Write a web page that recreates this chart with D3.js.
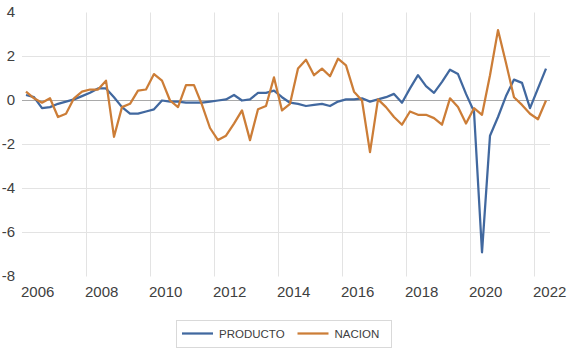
<!DOCTYPE html>
<html lang="es">
<head>
<meta charset="UTF-8">
<title>PRODUCTO vs NACION</title>
<script src="https://d3js.org/d3.v7.min.js"></script>
<style>
  html, body { margin: 0; padding: 0; background: #ffffff; }
  svg { display: block; font-family: "Liberation Sans", Arial, sans-serif; }
</style>
</head>
<body>
<svg id="chart" width="568" height="349"></svg>
<script>
// quarterly series, 2006Q1 .. 2022Q2
const startYear = 2006;
const producto = [
  0.25, 0.15, -0.35, -0.3, -0.15, -0.05, 0.05, 0.2, 0.35, 0.55,
  0.55, 0.15, -0.3, -0.6, -0.6, -0.5, -0.4, 0.0, -0.05, -0.05,
  -0.1, -0.1, -0.1, -0.05, 0.0, 0.05, 0.25, 0.0, 0.05, 0.35,
  0.35, 0.45, 0.15, -0.1, -0.15, -0.25, -0.2, -0.15, -0.25, -0.05,
  0.05, 0.05, 0.1, -0.05, 0.05, 0.15, 0.3, -0.1, 0.55, 1.15,
  0.65, 0.35, 0.85, 1.4, 1.2, 0.3, -0.5, -6.9, -1.6, -0.75,
  0.2, 0.95, 0.8, -0.35, 0.55, 1.45
];
const nacion = [
  0.4, 0.1, -0.1, 0.1, -0.75, -0.6, 0.1, 0.4, 0.5, 0.5,
  0.9, -1.65, -0.3, -0.15, 0.45, 0.5, 1.2, 0.9, 0.0, -0.3,
  0.7, 0.7, -0.2, -1.25, -1.8, -1.6, -1.05, -0.45, -1.8, -0.4,
  -0.25, 1.05, -0.45, -0.15, 1.45, 1.85, 1.15, 1.45, 1.1, 1.9,
  1.6, 0.4, 0.0, -2.35, 0.05, -0.3, -0.75, -1.1, -0.5, -0.65,
  -0.65, -0.8, -1.1, 0.1, -0.3, -1.05, -0.35, -0.65, 1.15, 3.2,
  1.7, 0.15, -0.2, -0.6, -0.85, 0.0
];
const yTicks = [4, 2, 0, -2, -4, -6, -8];
const xTickYears = [2006, 2008, 2010, 2012, 2014, 2016, 2018, 2020, 2022];
const seriesNames = ["PRODUCTO", "NACION"];
const seriesColors = ["#41689f", "#cc7d37"];

const svg = d3.select("#chart");

const x = d3.scaleLinear().domain([2006, 2022.5]).range([22, 550]);
const y = d3.scaleLinear().domain([-8, 4]).range([276.5, 12.5]);

// quarter i sits at mid-quarter
const t = i => startYear + i * 0.25 + 0.125;

// gridlines
const grid = svg.append("g");
grid.selectAll("line.v")
  .data(xTickYears.filter(d => d > 2006))
  .join("line")
  .attr("x1", d => Math.round(x(d)) + 0.5).attr("x2", d => Math.round(x(d)) + 0.5)
  .attr("y1", y(4)).attr("y2", y(-8))
  .attr("stroke", "#e3e3e3").attr("stroke-width", 1);
grid.selectAll("line.h")
  .data(yTicks.filter(d => d !== 0 && d !== 4 && d !== -8))
  .join("line")
  .attr("x1", x.range()[0]).attr("x2", x.range()[1])
  .attr("y1", d => y(d)).attr("y2", d => y(d))
  .attr("stroke", "#e3e3e3").attr("stroke-width", 1);
grid.append("line")
  .attr("x1", x.range()[0]).attr("x2", x.range()[1])
  .attr("y1", y(0)).attr("y2", y(0))
  .attr("stroke", "#a9a9a9").attr("stroke-width", 1);

// axis labels
svg.append("g").selectAll("text")
  .data(yTicks)
  .join("text")
  .attr("x", 15).attr("y", d => y(d) + 1)
  .attr("text-anchor", "end").attr("dominant-baseline", "middle")
  .attr("font-size", 15).attr("fill", "#404040")
  .text(d => d3.format("d")(d).replace("−", "-"));

svg.append("g").selectAll("text")
  .data(xTickYears)
  .join("text")
  .attr("x", d => x(d) - 1).attr("y", 297)
  .attr("text-anchor", "start")
  .attr("font-size", 15).attr("fill", "#404040")
  .text(d => d);

// lines
const line = d3.line().x((d, i) => x(t(i))).y(d => y(d));
[producto, nacion].forEach((s, k) => {
  svg.append("path")
    .datum(s)
    .attr("d", line)
    .attr("fill", "none")
    .attr("stroke", seriesColors[k])
    .attr("stroke-width", 2.25)
    .attr("stroke-linejoin", "round");
});

// legend
const legend = svg.append("g");
legend.append("rect")
  .attr("x", 176.5).attr("y", 320.5).attr("width", 215).attr("height", 27)
  .attr("fill", "#fff").attr("stroke", "#d9d9d9");
const legX = [182, 297.5];
seriesNames.forEach((name, k) => {
  legend.append("line")
    .attr("x1", legX[k]).attr("x2", legX[k] + 31)
    .attr("y1", 333.5).attr("y2", 333.5)
    .attr("stroke", seriesColors[k]).attr("stroke-width", 2.25);
  legend.append("text")
    .attr("x", legX[k] + 37).attr("y", 337.5)
    .attr("font-size", 11.5).attr("fill", "#404040")
    .text(name);
});
</script>
</body>
</html>
